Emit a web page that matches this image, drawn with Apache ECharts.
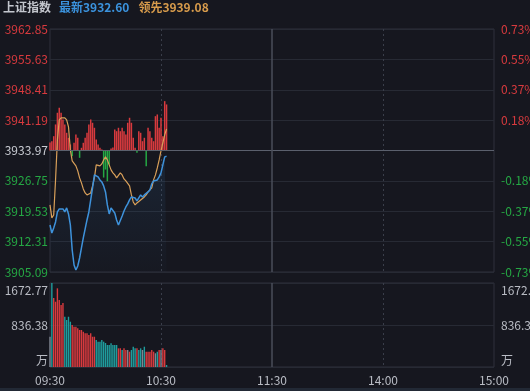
<!DOCTYPE html>
<html>
<head>
<meta charset="utf-8">
<style>
html,body{margin:0;padding:0;background:#16171f;}
#c{width:530px;height:391px;}
</style>
<script src="https://cdn.jsdelivr.net/npm/echarts@6/dist/echarts.min.js"></script>
</head>
<body>
<div id="c"></div>
<script>
// ---------- data ----------
const PREV_CLOSE = 3933.97;
const STEP = 7.22;
const PRICE_TICKS = ['3905.09','3912.31','3919.53','3926.75','3933.97','3941.19','3948.41','3955.63','3962.85'];
const PCT_TICKS = ['-0.73%','-0.55%','-0.37%','-0.18%','','0.18%','0.37%','0.55%','0.73%'];
const VOL_MAX = 1672.77;
const VOL_TICKS = ['万','836.38','1672.77'];
const TIME_LABELS = ['09:30','10:30','11:30','14:00','15:00'];

// 最新 (price)
const PRICE = [3916.27,3914.37,3915.56,3916.98,3919.36,3920.08,3919.84,3920.08,3919.36,3920.32,
  3918.89,3916.27,3910.32,3906.75,3905.56,3906.51,3908.42,3910.80,3913.18,3915.32,
  3917.46,3919.36,3922.22,3925.08,3928.17,3928.41,3927.69,3926.98,3926.50,3925.55,
  3924.12,3921.03,3918.89,3920.32,3920.55,3919.13,3917.46,3916.27,3916.51,3918.41,
  3919.60,3920.55,3921.27,3922.22,3922.93,3922.46,3922.70,3921.98,3922.70,3923.41,
  3922.93,3923.41,3923.41,3924.12,3924.60,3926.03,3926.74,3926.98,3926.98,3927.69,
  3928.65,3930.55,3932.46,3932.60];
// 领先 (leading line)
const LEAD = [3921.03,3917.94,3918.65,3926.98,3936.50,3941.26,3941.74,3941.97,3941.74,3941.26,
  3939.59,3934.12,3931.50,3931.03,3930.31,3929.12,3927.46,3926.27,3924.84,3923.89,
  3923.41,3923.41,3923.89,3925.55,3927.46,3930.55,3930.79,3930.31,3930.79,3931.74,
  3932.45,3931.74,3930.55,3929.36,3928.65,3928.17,3927.46,3927.69,3928.65,3928.17,
  3927.22,3926.74,3926.27,3925.55,3923.41,3921.74,3921.03,3921.51,3921.74,3922.22,
  3922.46,3922.93,3923.41,3924.12,3924.60,3925.08,3926.98,3928.17,3929.84,3931.74,
  3933.88,3935.79,3937.69,3939.08];
// strength bars (offset units around prev close line)
const STRENGTH = [1.90,2.21,3.40,6.19,8.97,10.16,8.97,7.38,6.19,4.21,
  3.02,1.43,-1.36,1.83,3.81,3.02,-1.74,0.64,1.83,3.02,
  4.21,6.19,7.38,6.59,5.40,2.62,1.43,0.64,0.24,-6.43,
  -4.52,-7.31,-3.33,0.48,0.71,5.00,4.59,5.40,4.59,5.40,
  4.59,3.81,6.59,7.78,6.59,3.02,0.64,-0.55,4.59,4.21,
  2.21,3.02,-3.74,5.40,4.59,3.02,2.21,8.16,8.57,5.40,
  7.78,3.40,11.73,10.95];
// volume (万) and direction (1 up, -1 down, 0 flat)
const VOLUME = [603,1672.77,1374,1300,1567,1334,1234,1274,1001,936,
  1001,902,836,802,802,770,737,737,703,671,
  671,637,671,603,603,538,504,504,538,504,
  478,438,438,472,438,438,438,372,372,338,
  372,338,338,305,338,404,372,372,338,372,
  338,404,305,305,305,338,305,273,305,338,
  338,372,338,40];
const VOL_DIR = [0,-1,1,1,1,1,1,1,-1,-1,
  -1,-1,1,1,1,1,1,1,1,1,
  1,1,1,1,1,-1,-1,-1,-1,-1,
  -1,-1,-1,-1,-1,-1,-1,1,1,-1,
  1,1,0,1,-1,-1,-1,1,-1,-1,
  0,-1,1,1,1,1,1,0,-1,1,
  0,1,1,-1];

// time categories 09:30-11:30, 13:01-15:00
const TIMES = [];
function pad(n){return (n<10?'0':'')+n;}
for (let m = 9*60+30; m <= 11*60+30; m++) TIMES.push(pad(Math.floor(m/60))+':'+pad(m%60));
for (let m = 13*60+1; m <= 15*60; m++) TIMES.push(pad(Math.floor(m/60))+':'+pad(m%60));

// ---------- style ----------
const RED = '#d83a3e', GREEN = '#25a844', TEAL = '#1f9d9d', GRAY = '#7f8591';
const LBL = '#b9bcc4';
const GRID_LINE = '#272a34';
const FONT = '"Noto Sans CJK SC","Noto Sans",sans-serif';

const priceIdx = v => Math.round(v / STEP) + 4;
const priceColor = v => { const i = priceIdx(v); return i < 4 ? GREEN : (i > 4 ? RED : '#c9ccd3'); };
const volIdx = v => Math.round(v / (VOL_MAX/2));
const volFmt = v => { const i = volIdx(v); const s = VOL_TICKS[i]; return i === 2 ? '{t|'+s+'}' : (i === 0 ? '{b|'+s+'}' : '{m|'+s+'}'); };
const volRich = {
  t:{color:LBL,fontSize:12,fontFamily:FONT,padding:[14,0,0,0]},
  m:{color:LBL,fontSize:12,fontFamily:FONT},
  b:{color:LBL,fontSize:12,fontFamily:FONT,padding:[0,0,14,0]}
};
const vSplit = {show:true, interval:(i)=> i===60 || i===180, lineStyle:{color:'#3a3e4a', type:[2,3], width:1}};
const solidMid = {xAxis:'11:30', lineStyle:{color:'#4a4e5a', type:'solid', width:1.5}};

const chart = echarts.init(document.getElementById('c'), null, {renderer:'canvas'});
chart.setOption({
  backgroundColor:'#16171f',
  animation:false,
  textStyle:{fontFamily:FONT},
  title:{
    left:3, top:1, padding:0,
    text:'{a|上证指数}{b|最新'+PRICE[PRICE.length-1].toFixed(2)+'}{c|领先'+LEAD[LEAD.length-1].toFixed(2)+'}',
    textStyle:{rich:{
      a:{color:'#c3c6cd',fontSize:12,fontFamily:FONT,padding:[0,8,0,0]},
      b:{color:'#3b93de',fontSize:12,fontFamily:FONT,padding:[0,9,0,0]},
      c:{color:'#d89c4c',fontSize:12,fontFamily:FONT}
    }}
  },
  graphic:[{type:'rect', left:0, top:388, shape:{width:530, height:3}, style:{fill:'#222935'}, silent:true}],
  grid:[
    {left:50, right:36, top:29, height:243, show:true, borderColor:'#2e313c', borderWidth:1,
     containLabel:false, outerBoundsMode:'none'},
    {left:50, right:36, top:283, height:84, show:true, borderColor:'#2e313c', borderWidth:1,
     containLabel:false, outerBoundsMode:'none'}
  ],
  xAxis:[
    {type:'category', gridIndex:0, data:TIMES, boundaryGap:false,
     axisLine:{show:false}, axisTick:{show:false}, axisLabel:{show:false}, splitLine:vSplit},
    {type:'category', gridIndex:1, data:TIMES, boundaryGap:false,
     axisLine:{show:false}, axisTick:{show:false},
     axisLabel:{interval:(i,v)=>TIME_LABELS.indexOf(v) >= 0, color:LBL, fontSize:12, margin:7, fontFamily:FONT},
     splitLine:vSplit}
  ],
  yAxis:[
    {type:'value', gridIndex:0, min:-4*STEP, max:4*STEP, interval:STEP,
     axisLine:{show:false}, axisTick:{show:false},
     axisLabel:{formatter:v=>PRICE_TICKS[priceIdx(v)], color:priceColor, fontSize:12, margin:2, fontFamily:FONT},
     splitLine:{show:true, lineStyle:{color:GRID_LINE, width:1}}},
    {type:'value', gridIndex:0, position:'right', min:-4*STEP, max:4*STEP, interval:STEP,
     axisLine:{show:false}, axisTick:{show:false},
     axisLabel:{formatter:v=>PCT_TICKS[priceIdx(v)], color:priceColor, fontSize:12, margin:7, fontFamily:FONT},
     splitLine:{show:false}},
    {type:'value', gridIndex:1, min:0, max:VOL_MAX, interval:VOL_MAX/2,
     axisLine:{show:false}, axisTick:{show:false},
     axisLabel:{formatter:volFmt, rich:volRich, margin:2},
     splitLine:{show:true, lineStyle:{color:GRID_LINE, width:1}}},
    {type:'value', gridIndex:1, position:'right', min:0, max:VOL_MAX, interval:VOL_MAX/2,
     axisLine:{show:false}, axisTick:{show:false},
     axisLabel:{formatter:volFmt, rich:volRich, margin:7},
     splitLine:{show:false}}
  ],
  series:[
    {type:'bar', name:'strength', xAxisIndex:0, yAxisIndex:0, barWidth:1.5,
     data:STRENGTH, itemStyle:{color:p=> p.value >= 0 ? RED : GREEN}, silent:true},
    {type:'line', name:'领先', xAxisIndex:0, yAxisIndex:0, showSymbol:false, smooth:false,
     data:LEAD.map(v=>+(v-PREV_CLOSE).toFixed(2)),
     lineStyle:{color:'#d9a05a', width:1.2}, silent:true},
    {type:'line', name:'最新', xAxisIndex:0, yAxisIndex:0, showSymbol:false, smooth:false,
     data:PRICE.map(v=>+(v-PREV_CLOSE).toFixed(2)),
     lineStyle:{color:'#3e92db', width:1.5},
     areaStyle:{origin:'start', color:new echarts.graphic.LinearGradient(0,0,0,1,[
       {offset:0,color:'rgba(62,146,219,0.16)'},{offset:1,color:'rgba(62,146,219,0.02)'}])},
     markLine:{silent:true, symbol:'none', label:{show:false},
       data:[{yAxis:0, lineStyle:{color:'#5b606d', type:'solid', width:1}}, solidMid]},
     silent:true},
    {type:'bar', name:'成交量', xAxisIndex:1, yAxisIndex:2, barWidth:1.4,
     data:VOLUME,
     itemStyle:{color:p=> VOL_DIR[p.dataIndex] > 0 ? RED : (VOL_DIR[p.dataIndex] < 0 ? TEAL : GRAY)},
     markLine:{silent:true, symbol:'none', label:{show:false}, data:[solidMid]},
     silent:true}
  ]
});
</script>
</body>
</html>
